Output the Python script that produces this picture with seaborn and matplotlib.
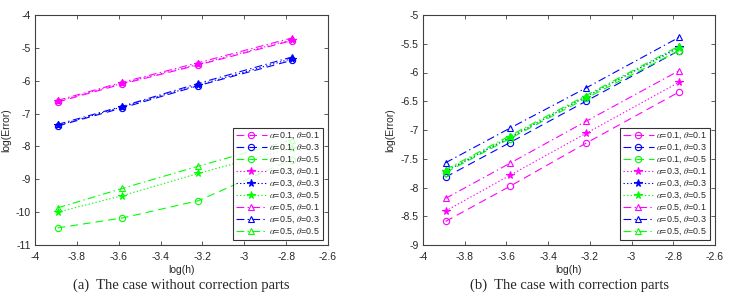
import numpy as np
import pandas as pd
import matplotlib
matplotlib.use("Agg")
import matplotlib.pyplot as plt
import seaborn as sns

# log(h) for h = 1/49, 1/36, 1/25, 1/16
log_h = [-3.892, -3.584, -3.219, -2.773]

labels = [r"$\alpha$=0.1, $\theta$=0.1", r"$\alpha$=0.1, $\theta$=0.3", r"$\alpha$=0.1, $\theta$=0.5",
          r"$\alpha$=0.3, $\theta$=0.1", r"$\alpha$=0.3, $\theta$=0.3", r"$\alpha$=0.3, $\theta$=0.5",
          r"$\alpha$=0.5, $\theta$=0.1", r"$\alpha$=0.5, $\theta$=0.3", r"$\alpha$=0.5, $\theta$=0.5"]

# (a) without correction parts
err_a = [
    [-6.65, -6.10, -5.52, -4.78],
    [-7.38, -6.83, -6.15, -5.38],
    [-10.48, -10.18, -9.65, -8.40],
    [-6.62, -6.08, -5.50, -4.75],
    [-7.36, -6.80, -6.13, -5.33],
    [-10.00, -9.50, -8.82, -8.05],
    [-6.60, -6.05, -5.45, -4.70],
    [-7.33, -6.78, -6.08, -5.28],
    [-9.87, -9.28, -8.60, -7.80],
]

# (b) with correction parts
err_b = [
    [-8.59, -7.98, -7.23, -6.34],
    [-7.82, -7.22, -6.50, -5.62],
    [-7.74, -7.15, -6.45, -5.62],
    [-8.41, -7.79, -7.06, -6.17],
    [-7.72, -7.13, -6.42, -5.56],
    [-7.71, -7.12, -6.42, -5.58],
    [-8.19, -7.58, -6.85, -5.97],
    [-7.57, -6.97, -6.27, -5.39],
    [-7.69, -7.10, -6.40, -5.54],
]

colors = ["#ff00ff", "#0000ff", "#00ff00"] * 3
linestyles = [(0, (7, 4.5))] * 3 + [(0, (1.2, 2))] * 3 + [(0, (7, 3, 1.2, 3))] * 3
markers = ["o"] * 3 + ["*"] * 3 + ["^"] * 3
filled = [False] * 3 + [True] * 3 + [False] * 3

sns.set_theme(style="ticks")
plt.rcParams["font.family"] = ["Liberation Sans", "DejaVu Sans"]
plt.rcParams["mathtext.fontset"] = "stix"


def draw_panel(ax, errs, ylim, yticks, caption, ylab_x):
    for i, lab in enumerate(labels):
        df = pd.DataFrame({"log(h)": log_h, "log(Error)": errs[i]})
        sns.lineplot(data=df, x="log(h)", y="log(Error)", ax=ax, color=colors[i],
                     linestyle=linestyles[i], marker=markers[i],
                     markersize=4.5 if markers[i] != "*" else 5.5,
                     markerfacecolor=colors[i] if filled[i] else "none",
                     markeredgecolor=colors[i], markeredgewidth=0.8, linewidth=0.8, label=lab)
    ax.set_xlim(-4, -2.6)
    ax.set_ylim(*ylim)
    ax.set_xticks(np.arange(-4, -2.59, 0.2))
    ax.set_xticklabels(["-4", "-3.8", "-3.6", "-3.4", "-3.2", "-3", "-2.8", "-2.6"])
    ax.set_yticks(yticks)
    ax.set_yticklabels([f"{t:g}" for t in yticks])
    ax.tick_params(direction="in", length=3, width=0.6, labelsize=7.5, top=True, right=True,
                   color="#404040")
    ax.tick_params(axis="x", pad=5)
    ax.tick_params(axis="y", pad=3)
    for s in ax.spines.values():
        s.set_color("#404040")
        s.set_linewidth(0.8)
    ax.set_xlabel("log(h)", fontsize=7.5, labelpad=2)
    ax.set_ylabel("log(Error)", fontsize=7.5)
    ax.yaxis.set_label_coords(ylab_x, 0.5)
    leg = ax.legend(loc="lower right", fontsize=6.4, handlelength=3.4, labelspacing=0.18,
                    borderpad=0.35, handletextpad=0.3, frameon=True, fancybox=False,
                    borderaxespad=0.55)
    leg.get_frame().set_edgecolor("black")
    leg.get_frame().set_linewidth(0.8)
    ax.text(0.5, -0.145, caption, transform=ax.transAxes, ha="center", va="top",
            fontsize=10.5, family=["Liberation Serif", "DejaVu Serif"])


fig = plt.figure(figsize=(7.32, 2.99), dpi=100)
ax1 = fig.add_axes([35 / 732, 54 / 299, 293 / 732, 230 / 299])
ax2 = fig.add_axes([423 / 732, 54 / 299, 292 / 732, 230 / 299])

draw_panel(ax1, err_a, (-11, -4), list(range(-11, -3)), "(a)  The case without correction parts", -0.08)
draw_panel(ax2, err_b, (-9, -5), list(np.arange(-9, -4.99, 0.5)), "(b)  The case with correction parts", -0.095)

fig.savefig("out.png", dpi=100)
